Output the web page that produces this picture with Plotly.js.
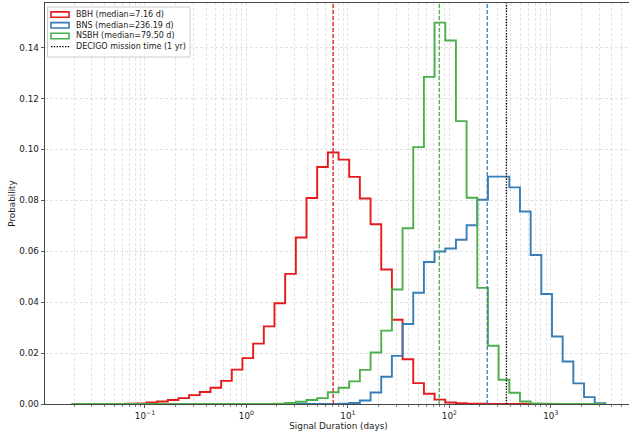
<!DOCTYPE html>
<html>
<head>
<meta charset="utf-8">
<script src="https://cdn.plot.ly/plotly-3.0.1.min.js"></script>
<style>
html,body{margin:0;padding:0;overflow:hidden;background:#ffffff;}
#chart{width:632px;height:440px;}
</style>
</head>
<body>
<div id="chart"></div>
<script>
// ---------------- data ----------------
// shared log-spaced bin edges (log10 of first and last edge), 50 bins
const binLogMin = -1.722;
const binLogMax = 3.5375;
const binCount = 50;

const bbhProb = [
  0, 0, 0, 0, 0,
  0.0001, 0.0002, 0.0006, 0.0010, 0.0016,
  0.0023, 0.0035, 0.0047, 0.0064, 0.0091,
  0.0135, 0.0180, 0.0237, 0.0305, 0.0396,
  0.0511, 0.0654, 0.0809, 0.0931, 0.0988,
  0.0960, 0.0892, 0.0807, 0.0706, 0.0528,
  0.0331, 0.0176, 0.0082, 0.0040, 0.0017,
  0.0006, 0.0003, 0.0001, 0.0001, 0,
  0, 0, 0, 0, 0,
  0, 0, 0, 0, 0
];
const bnsProb = [
  0, 0, 0, 0, 0,
  0, 0, 0, 0, 0,
  0, 0, 0, 0, 0,
  0, 0, 0, 0, 0,
  0, 0, 0, 0, 0,
  0.0001, 0.0004, 0.0014, 0.0045, 0.0107,
  0.0189, 0.0314, 0.0437, 0.0558, 0.0599,
  0.0611, 0.0645, 0.0702, 0.0802, 0.0893,
  0.0893, 0.0851, 0.0756, 0.0585, 0.0432,
  0.0265, 0.0167, 0.0081, 0.0027, 0.0003
];
const nsbhProb = [
  0, 0, 0, 0, 0,
  0, 0, 0, 0, 0,
  0, 0, 0, 0, 0,
  0, 0, 0, 0, 0.0001,
  0.0004, 0.0009, 0.0016, 0.0023, 0.0046,
  0.0064, 0.0089, 0.0134, 0.0202, 0.0288,
  0.0450, 0.0690, 0.1009, 0.1285, 0.1498,
  0.1428, 0.1111, 0.0810, 0.0456, 0.0229,
  0.0095, 0.0044, 0.0010, 0.0002, 0.0001,
  0, 0, 0, 0, 0
];

const seriesNames = ['BBH', 'BNS', 'NSBH'];
const medianDays = [7.16, 236.19, 79.50];
const medianLabels = ['7.16', '236.19', '79.50'];
const missionDays = 365.25;
const missionLabel = 'DECIGO mission time (1 yr)';

const xTickVals = [0.1, 1, 10, 100, 1000];
const xTickText = ['10<sup>\u22121</sup>', '10<sup>0</sup>', '10<sup>1</sup>', '10<sup>2</sup>', '10<sup>3</sup>'];
const yTickVals = [0, 0.02, 0.04, 0.06, 0.08, 0.10, 0.12, 0.14];
const yTickText = ['0.00', '0.02', '0.04', '0.06', '0.08', '0.10', '0.12', '0.14'];

const xTitle = 'Signal Duration (days)';
const yTitle = 'Probability';

// ---------------- styling / layout constants ----------------
const colors = ['#e41a1c', '#377eb8', '#4daf4a'];
const FONT = 'DejaVu Sans, sans-serif';
const W = 632, H = 440;
const M = {l: 45, r: 0, t: 3, b: 36};
const xRange = [-1.985, 3.80];
const yRange = [0, 0.1575];
const gridColor = '#dcdcdc';
const TXT = '#1a1a1a';

// ---------------- build ----------------
const edges = [];
for (let i = 0; i <= binCount; i++) {
  edges.push(Math.pow(10, binLogMin + i * (binLogMax - binLogMin) / binCount));
}
function stepXY(vals) {
  const x = [edges[0]], y = [0];
  for (let i = 0; i < vals.length; i++) { x.push(edges[i]); y.push(vals[i]); }
  x.push(edges[vals.length]); y.push(vals[vals.length - 1]);
  x.push(edges[vals.length]); y.push(0);
  return {x, y};
}

const allSeries = [bbhProb, bnsProb, nsbhProb];
const traces = [];
allSeries.forEach((vals, i) => {
  const s = stepXY(vals);
  traces.push({
    type: 'scatter', mode: 'lines', x: s.x, y: s.y,
    line: {shape: 'hv', color: colors[i], width: 1.9},
    name: seriesNames[i] + ' (median=' + medianLabels[i] + ' d)',
    hoverinfo: 'skip', showlegend: false
  });
});
medianDays.forEach((m, i) => {
  traces.push({
    type: 'scatter', mode: 'lines', x: [m, m], y: [yRange[0], yRange[1]],
    line: {color: colors[i], width: 1.3, dash: '4px,2px'},
    hoverinfo: 'skip', showlegend: false
  });
});
traces.push({
  type: 'scatter', mode: 'lines', x: [missionDays, missionDays], y: [yRange[0], yRange[1]],
  line: {color: '#000000', width: 1.4, dash: '1.4px,1.4px'},
  hoverinfo: 'skip', showlegend: false
});

// minor log ticks
const minorVals = [];
for (let d = -2; d <= 3; d++) {
  for (let k = 2; k <= 9; k++) minorVals.push(k * Math.pow(10, d));
}

// custom legend (matplotlib style) in paper coordinates
const pw = W - M.l - M.r, ph = H - M.t - M.b;
const px = v => (v - M.l) / pw;
const py = v => (H - M.b - v) / ph;
const shapes = [];
const annotations = [];
shapes.push({type: 'rect', xref: 'paper', yref: 'paper',
  x0: px(47.5), x1: px(190), y0: py(57), y1: py(7),
  line: {color: '#cccccc', width: 1}, fillcolor: 'rgba(255,255,255,0.8)', layer: 'above'});
const rowY = [14.6, 25.3, 36.0, 46.7];
const legendTexts = seriesNames.map((n, i) => n + ' (median=' + medianLabels[i] + ' d)').concat([missionLabel]);
for (let i = 0; i < 3; i++) {
  shapes.push({type: 'rect', xref: 'paper', yref: 'paper',
    x0: px(51), x1: px(69), y0: py(rowY[i] + 2.7), y1: py(rowY[i] - 2.7),
    line: {color: colors[i], width: 1.6}, fillcolor: 'rgba(0,0,0,0)', layer: 'above'});
}
shapes.push({type: 'line', xref: 'paper', yref: 'paper',
  x0: px(51), x1: px(69), y0: py(rowY[3]), y1: py(rowY[3]),
  line: {color: '#000000', width: 1.3, dash: '1.4px,1.4px'}, layer: 'above'});
legendTexts.forEach((t, i) => {
  annotations.push({xref: 'paper', yref: 'paper', x: px(74), y: py(rowY[i]),
    xanchor: 'left', yanchor: 'middle', showarrow: false, text: t,
    font: {family: FONT, size: 8.0, color: TXT}});
});

const layout = {
  width: W, height: H,
  margin: M,
  paper_bgcolor: '#ffffff', plot_bgcolor: '#ffffff',
  showlegend: false,
  font: {family: FONT, size: 8.8, color: TXT},
  xaxis: {
    type: 'log', range: xRange, autorange: false,
    tickmode: 'array', tickvals: xTickVals, ticktext: xTickText,
    ticks: 'outside', ticklen: 3.5, tickwidth: 0.8, tickcolor: '#333333',
    showline: true, linecolor: '#333333', linewidth: 0.9, mirror: true,
    showgrid: true, gridcolor: gridColor, gridwidth: 0.8, griddash: '3px,2px',
    minor: {tickmode: 'array', tickvals: minorVals, ticks: 'outside', ticklen: 2, tickwidth: 0.6,
            tickcolor: '#333333', showgrid: true, gridcolor: gridColor, gridwidth: 0.8, griddash: '3px,2px'},
    zeroline: false,
    tickfont: {family: FONT, size: 8.8, color: TXT},
    title: {text: xTitle, font: {family: FONT, size: 8.8, color: TXT}, standoff: 2}
  },
  yaxis: {
    range: yRange, autorange: false,
    tickmode: 'array', tickvals: yTickVals, ticktext: yTickText,
    ticks: 'outside', ticklen: 3.5, tickwidth: 0.8, tickcolor: '#333333',
    showline: true, linecolor: '#333333', linewidth: 0.9, mirror: false,
    showgrid: true, gridcolor: gridColor, gridwidth: 0.8, griddash: '3px,2px',
    zeroline: false,
    tickfont: {family: FONT, size: 8.8, color: TXT},
    title: {text: yTitle, font: {family: FONT, size: 8.8, color: TXT}, standoff: 2}
  },
  shapes: shapes,
  annotations: annotations
};

Plotly.newPlot('chart', traces, layout, {displayModeBar: false, staticPlot: true});
</script>
</body>
</html>
